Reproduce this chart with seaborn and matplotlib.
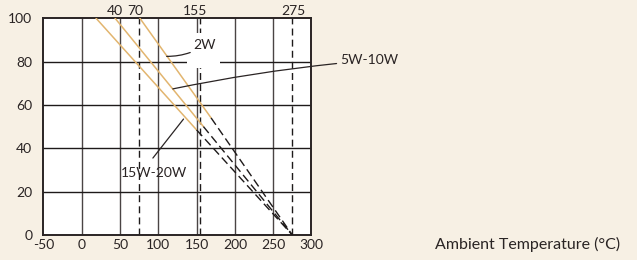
import pandas as pd
import numpy as np
import matplotlib.pyplot as plt
import seaborn as sns
from matplotlib.patches import Rectangle

# derating curves: load (%) vs ambient temperature
ratings = ["2W", "5W-10W", "15W-20W"]
start_temp = [76, 43.6, 18.8]      # 100% load up to this temp
knee_temp = [169, 159, 150]        # end of solid (rated) part
knee_load = [54, 50, 48.5]
zero_temp = [275, 275, 275]        # 0% load

dashed_marks = [75, 155, 275]
top_labels = ["40", "70", "155", "275"]
top_label_at = [44, 70, 148, 276]

solid_rows = []
dash_rows = []
for i, r in enumerate(ratings):
    solid_rows.append({"rating": r, "temp": start_temp[i], "load": 100})
    solid_rows.append({"rating": r, "temp": knee_temp[i], "load": knee_load[i]})
    dash_rows.append({"rating": r, "temp": knee_temp[i], "load": knee_load[i]})
    dash_rows.append({"rating": r, "temp": zero_temp[i], "load": 0})
solid = pd.DataFrame(solid_rows)
dash = pd.DataFrame(dash_rows)

sns.set_style("white")
plt.rcParams["font.family"] = ["Lato", "DejaVu Sans"]
plt.rcParams["axes.unicode_minus"] = False

bg = "#f7f0e4"
fig = plt.figure(figsize=(6.37, 2.60), dpi=100, facecolor=bg)
ax = fig.add_axes([0.068, 0.096, 0.421, 0.834])
ax.set_facecolor("white")

ax.set_xlim(-50, 300)
ax.set_ylim(0, 100)
ax.set_xticks(np.arange(-50, 301, 50))
ax.set_yticks(np.arange(0, 101, 20))

for x in np.arange(0, 300, 50):
    ax.axvline(x, color="#4a4444", lw=1.0, zorder=1)
for y in np.arange(20, 100, 20):
    ax.axhline(y, color="#1e1a1a", lw=1.0, zorder=1)
for x in dashed_marks:
    ax.axvline(x, color="#1e1a1a", lw=1.0, ls=(0, (5, 3)), zorder=1)

# blank box behind the 2W label area
ax.add_patch(Rectangle((137, 77), 44, 16, facecolor="white", edgecolor="none", zorder=2))

sns.lineplot(data=solid, x="temp", y="load", units="rating", estimator=None,
             color="#e2b56f", lw=1.1, ax=ax, zorder=3, sort=False)
sns.lineplot(data=dash, x="temp", y="load", units="rating", estimator=None,
             color="#1e1a1a", lw=1.0, ax=ax, zorder=3, sort=False)
for l in ax.lines[-3:]:
    l.set_dashes((6, 3))

ax.set_xlabel("")
ax.set_ylabel("")

for s in ax.spines.values():
    s.set_color("#2a2424")
    s.set_linewidth(1.4)

ax.tick_params(axis="both", length=0, labelsize=10, colors="#2a2424", pad=3)
ax.tick_params(axis="y", pad=8)

sec = ax.secondary_xaxis("top")
sec.set_xticks(top_label_at)
sec.set_xticklabels(top_labels)
sec.tick_params(length=0, labelsize=10, colors="#2a2424", pad=1)
sec.spines["top"].set_visible(False)

txt = "#2a2424"
ax.annotate("2W", xy=(111, 82.4), xytext=(146, 87.5), fontsize=10, color=txt,
            va="center", ha="left", zorder=4,
            arrowprops=dict(arrowstyle="-", color=txt, lw=0.9,
                            connectionstyle="arc3,rad=-0.15", shrinkA=0, shrinkB=0))
ax.annotate("5W-10W", xy=(119, 67.4), xytext=(337, 80.5), fontsize=10, color=txt,
            va="center", ha="left", zorder=4, annotation_clip=False,
            arrowprops=dict(arrowstyle="-", color=txt, lw=0.9,
                            connectionstyle="arc3,rad=0.03", shrinkA=0, shrinkB=0))
ax.plot([93, 133], [35.5, 53.5], color=txt, lw=0.9, zorder=4)
ax.text(94, 28.5, "15W-20W", fontsize=10, color=txt, va="center", ha="center", zorder=4)

fig.text(0.973, 0.058, "Ambient Temperature (°C)", fontsize=11.5, color=txt,
         ha="right", va="center")

fig.savefig("out.png", dpi=100, facecolor=bg)
